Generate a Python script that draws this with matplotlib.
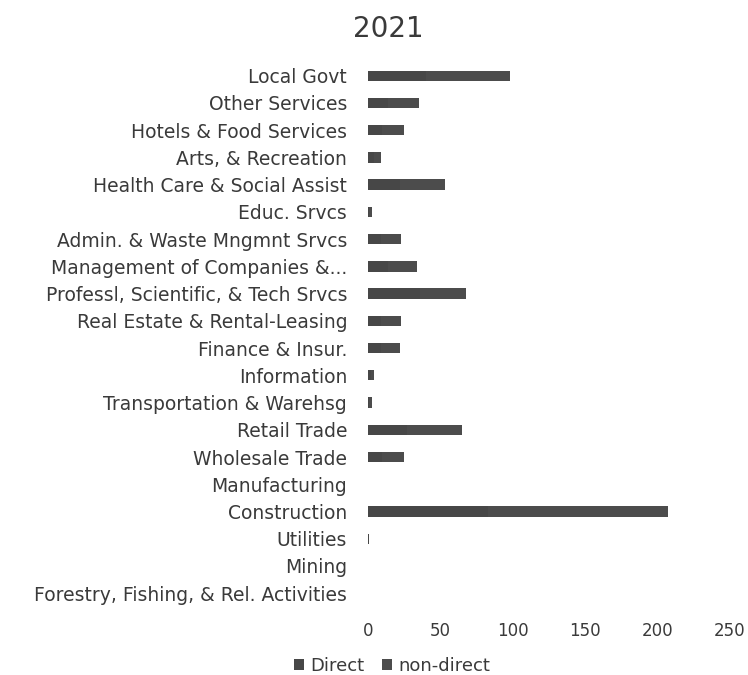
import matplotlib.pyplot as plt
import numpy as np

plt.rcParams['font.family'] = ['DejaVu Sans']

industries = [
    "Forestry, Fishing, & Rel. Activities", "Mining", "Utilities",
    "Construction", "Manufacturing", "Wholesale Trade", "Retail Trade",
    "Transportation & Warehsg", "Information", "Finance & Insur.",
    "Real Estate & Rental-Leasing", "Professl, Scientific, & Tech Srvcs",
    "Management of Companies &...", "Admin. & Waste Mngmnt Srvcs",
    "Educ. Srvcs", "Health Care & Social Assist", "Arts, & Recreation",
    "Hotels & Food Services", "Other Services", "Local Govt",
]
direct = [0, 0, 0.5, 83, 0, 10, 27, 1, 2, 9, 9, 36, 14, 9, 1, 22, 4, 10, 14, 40]
non_direct = [0, 0, 0.5, 124, 0, 15, 38, 2, 2, 13, 14, 32, 20, 14, 2, 31, 5, 15, 21, 58]

text_col = "#3a3a3a"
fig = plt.figure(figsize=(7.48, 6.75), dpi=100)
ax = fig.add_axes([0.492, 0.101, 0.484, 0.807])

y = np.arange(len(industries))
ax.barh(y, direct, height=0.38, color="#474747", label="Direct")
ax.barh(y, non_direct, left=direct, height=0.38, color="#4c4c4c", label="non-direct")

ax.set_xlim(0, 250)
ax.set_ylim(-0.5, len(industries) - 0.5)
ax.set_xticks(range(0, 251, 50))
ax.set_yticks(y)
ax.set_yticklabels(industries)
ax.tick_params(length=0, colors=text_col)
ax.tick_params(axis='x', pad=11, labelsize=12)
ax.tick_params(axis='y', pad=15, labelsize=13.5)
for s in ax.spines.values():
    s.set_visible(False)

fig.text(0.519, 0.957, "2021", ha='center', va='center', fontsize=20, color=text_col)
fig.legend(loc='center', bbox_to_anchor=(0.524, 0.014), ncol=2, frameon=False,
           fontsize=13, labelcolor=text_col, handlelength=0.55, handleheight=0.55,
           handletextpad=0.35, columnspacing=1.0)

fig.savefig("out.png", dpi=100)
